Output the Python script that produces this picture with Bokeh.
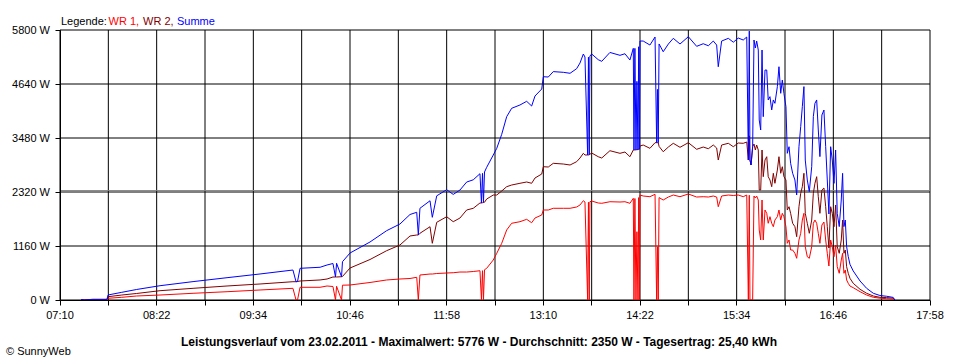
from bokeh.plotting import figure
from bokeh.models import FixedTicker, Label, Range1d
from bokeh.embed import file_html
from bokeh.resources import INLINE

# ---- data (time in minutes since midnight, power in W) ----
TIME = [445.6, 446.4, 447.9, 454.6, 465.0, 465.8, 476.0, 487.1, 504.5, 529.1,
        554.4, 579.0, 603.5, 605.8, 606.9, 608.8, 623.7, 628.9, 633.3, 635.2,
        636.0, 639.7, 640.4, 646.0, 660.9, 673.3, 683.2, 690.7, 695.7, 696.9,
        698.1, 705.6, 707.3, 710.6, 718.0, 722.9, 727.9, 732.9, 737.8, 742.8,
        743.9, 744.7, 745.4, 746.2, 747.8, 752.7, 755.3, 759.0, 762.7, 766.4,
        772.6, 777.6, 781.3, 783.8, 788.8, 790.0, 793.7, 797.4, 804.9, 809.9,
        814.8, 817.3, 819.8, 821.0, 823.0, 823.6, 824.2, 824.7, 826.0, 830.9,
        833.5, 839.6, 847.1, 850.8, 854.5, 857.0, 857.5, 858.2, 859.0, 859.7,
        860.5, 861.0, 861.6, 862.0, 864.4, 869.4, 873.2, 874.4, 875.0, 875.6,
        876.2, 879.3, 883.1, 886.8, 891.8, 898.0, 904.2, 909.1, 912.9, 916.6,
        919.1, 920.3, 922.8, 927.8, 931.5, 935.2, 938.9, 941.5, 942.7, 943.4,
        943.9, 944.7, 945.9, 946.9, 947.9, 948.9, 950.1, 950.8, 951.9, 952.9,
        953.8, 955.1, 956.4, 957.5, 958.8, 960.1, 961.3, 962.5, 964.3, 965.5,
        966.8, 968.0, 969.2, 970.7, 971.7, 973.0, 974.2, 975.7, 977.4, 978.7,
        980.4, 981.7, 982.9, 984.1, 985.1, 986.6, 988.1, 989.9, 991.1, 992.3,
        993.6, 994.8, 996.0, 997.5, 999.0, 1000.3, 1001.5, 1002.7, 1004.0, 1005.2,
        1006.5, 1007.7, 1008.9, 1010.4, 1011.9, 1012.9, 1013.9, 1014.9, 1015.9, 1017.1,
        1018.4, 1020.8, 1025.9, 1030.8, 1035.8, 1040.7, 1045.7, 1050.6, 1051.9]

WR1 = [0, 6, 0, 8, 8, 37, 58, 86, 107, 144,
       178, 215, 251, 0, 0, 273, 273, 301, 290, 0,
       295, 0, 318, 322, 376, 430, 451, 462, 488, 0,
       537, 558, 558, 569, 580, 586, 601, 601, 612, 629,
       0, 630, 0, 650, 681, 859, 1003, 1218, 1504, 1648,
       1682, 1733, 1660, 1761, 1826, 1933, 1933, 1970, 1970, 1970,
       1998, 2041, 2133, 2105, 0, 2100, 0, 2110, 2127, 2084,
       2077, 2111, 2105, 2111, 2077, 2184, 0, 2180, 0, 1467,
       0, 2200, 0, 2255, 2234, 2219, 2270, 0, 1145, 0,
       2200, 2148, 2212, 2255, 2219, 2277, 2212, 2219, 2212, 2234,
       2212, 2004, 2234, 2255, 2245, 2255, 2219, 2255, 0, 2250,
       0, 0, 0, 2234, 2191, 2234, 2148, 1504, 1289, 2148,
       1289, 1933, 1862, 1648, 1790, 1648, 1575, 1718, 1790, 1933,
       1718, 1862, 1790, 1575, 1218, 1289, 1074, 1074, 1003, 896,
       1289, 1433, 1718, 1862, 1145, 930, 896, 1145, 1648, 1718,
       1648, 1433, 1218, 1611, 1675, 1289, 1003, 730, 1289, 1145,
       930, 1181, 715, 574, 859, 1003, 574, 644, 430, 359,
       300, 265, 178, 107, 58, 39, 28, 17, 0]

WR2 = [0, 6, 0, 8, 8, 71, 107, 140, 200, 251,
       301, 344, 393, 393, 397, 408, 430, 451, 494, 494,
       494, 500, 505, 687, 870, 1059, 1181, 1375, 1396, 1396,
       1433, 1574, 1218, 1669, 1789, 1682, 1761, 1933, 1970, 2084,
       2084, 2090, 2095, 2100, 2169, 2255, 2255, 2341, 2434, 2470,
       2507, 2535, 2507, 2621, 2706, 2863, 2857, 2936, 2921, 2900,
       2971, 3050, 3151, 3115, 3115, 3115, 3120, 3130, 3158, 3078,
       3050, 3207, 3151, 3179, 3078, 3222, 3222, 3225, 3225, 3230,
       3230, 3240, 3240, 3308, 3329, 3258, 3379, 3379, 3379, 3379,
       3300, 3185, 3286, 3366, 3280, 3379, 3237, 3286, 3250, 3329,
       3265, 3007, 3329, 3366, 3293, 3372, 3366, 3394, 3007, 3526,
       3007, 2900, 3293, 3351, 3222, 3329, 3222, 2363, 2363, 3222,
       2649, 3007, 3078, 2649, 2578, 2434, 2722, 2507, 2792, 3078,
       2722, 2863, 2649, 2578, 1933, 2004, 1862, 1648, 1575, 1360,
       2004, 2292, 2434, 2722, 1862, 1648, 1433, 1718, 2292, 2507,
       2649, 2219, 1862, 2363, 2406, 2004, 1575, 1117, 2004, 1862,
       1575, 2041, 1145, 1003, 1289, 1718, 1003, 1074, 715, 574,
       466, 359, 230, 144, 86, 58, 52, 39, 0]

SUMME = [a + b for a, b in zip(WR1, WR2)]

X_LABELS = ["07:10", "08:22", "09:34", "10:46", "11:58",
            "13:10", "14:22", "15:34", "16:46", "17:58"]
Y_TICKS = [0, 1160, 2320, 3480, 4640, 5800]
AVERAGE = 2350
TITLE = ("Leistungsverlauf vom 23.02.2011 - Maximalwert: 5776 W - "
         "Durchschnitt: 2350 W - Tagesertrag: 25,40 kWh")

# ---- ticks ----
label_mins = [int(s[:2]) * 60 + int(s[3:]) for s in X_LABELS]
x_ticks = []
overrides = {}
for i, m in enumerate(label_mins):
    x_ticks.append(m)
    overrides[m] = X_LABELS[i]
    if i + 1 < len(label_mins):
        mid = (m + label_mins[i + 1]) // 2
        x_ticks.append(mid)
        overrides[mid] = ""

FONT = "Liberation Sans"

# canvas geometry: plotting box 870 x 270 px placed inside a 960 x 360 canvas
W_C, H_C = 960, 360
BOX_L, BOX_T, BOX_W, BOX_H = 59.5, 29.5, 870, 270
x0, x1 = label_mins[0], label_mins[-1]
y0, y1 = Y_TICKS[0], Y_TICKS[-1]
px_t = (x1 - x0) / BOX_W
px_w = (y1 - y0) / BOX_H

p = figure(width=W_C, height=H_C, output_backend="svg", toolbar_location=None,
           x_range=Range1d(x0 - BOX_L * px_t, x1 + (W_C - BOX_L - BOX_W) * px_t),
           y_range=Range1d(y0 - (H_C - BOX_T - BOX_H) * px_w, y1 + BOX_T * px_w),
           min_border_left=0, min_border_right=0,
           min_border_top=0, min_border_bottom=0)
p.title.visible = False
p.background_fill_color = "white"
p.border_fill_color = "white"
p.outline_line_color = None
p.xgrid.visible = False
p.ygrid.visible = False

p.xaxis.ticker = FixedTicker(ticks=x_ticks)
p.xaxis.major_label_overrides = overrides
p.xaxis.fixed_location = y0
p.xaxis.bounds = (x0, x1)
p.yaxis.ticker = FixedTicker(ticks=Y_TICKS)
p.yaxis.major_label_overrides = {v: f"{v} W" for v in Y_TICKS}
p.yaxis.fixed_location = x0
p.yaxis.bounds = (y0, y1)

for ax in (p.xaxis, p.yaxis):
    ax.major_label_text_font = FONT
    ax.major_label_text_font_size = "11px"
    ax.major_label_text_color = "black"
    ax.axis_line_color = "black"
    ax.major_tick_line_color = "black"
    ax.minor_tick_line_color = None
    ax.major_tick_in = 0
    ax.major_tick_out = 5
p.xaxis.major_label_standoff = 4
p.yaxis.major_label_standoff = 5

# grid lines limited to the plotting box (built from the tick arrays)
p.segment(x0=x_ticks, y0=[y0] * len(x_ticks), x1=x_ticks, y1=[y1] * len(x_ticks),
          line_color="black", line_width=1, level="underlay")
p.segment(x0=[x0] * len(Y_TICKS), y0=Y_TICKS, x1=[x1] * len(Y_TICKS), y1=Y_TICKS,
          line_color="black", line_width=1, level="underlay")
p.segment(x0=[x0], y0=[AVERAGE], x1=[x1], y1=[AVERAGE],
          line_color="#808080", line_width=1, level="underlay")

p.line(TIME, WR1, line_color="#FF0000", line_width=1)
p.line(TIME, WR2, line_color="#800000", line_width=1)
p.line(TIME, SUMME, line_color="#0000FF", line_width=1)

# ---- texts ----
top_y = y1 + 9.3 * px_w
legend_parts = [("Legende:", "black", 1), ("WR 1,", "#FF0000", 48.5),
                ("WR 2,", "#800000", 83), ("Summe", "#0000FF", 117)]
for txt, col, off in legend_parts:
    p.add_layout(Label(x=x0 + off * px_t, y=top_y, text=txt,
                       text_font=FONT, text_font_size="11px", text_color=col,
                       text_baseline="alphabetic", text_align="left"))

p.add_layout(Label(x=x0 + 419 * px_t, y=y0 - 41.5 * px_w, text=TITLE,
                   text_font=FONT, text_font_size="12px", text_font_style="bold",
                   text_color="black", text_align="center",
                   text_baseline="alphabetic"))
p.add_layout(Label(x=x0 - 54 * px_t, y=y0 - 51 * px_w, text="© SunnyWeb",
                   text_font=FONT, text_font_size="11px", text_color="black",
                   text_align="left", text_baseline="alphabetic"))

open("out.html", "w").write(file_html(p, INLINE))
